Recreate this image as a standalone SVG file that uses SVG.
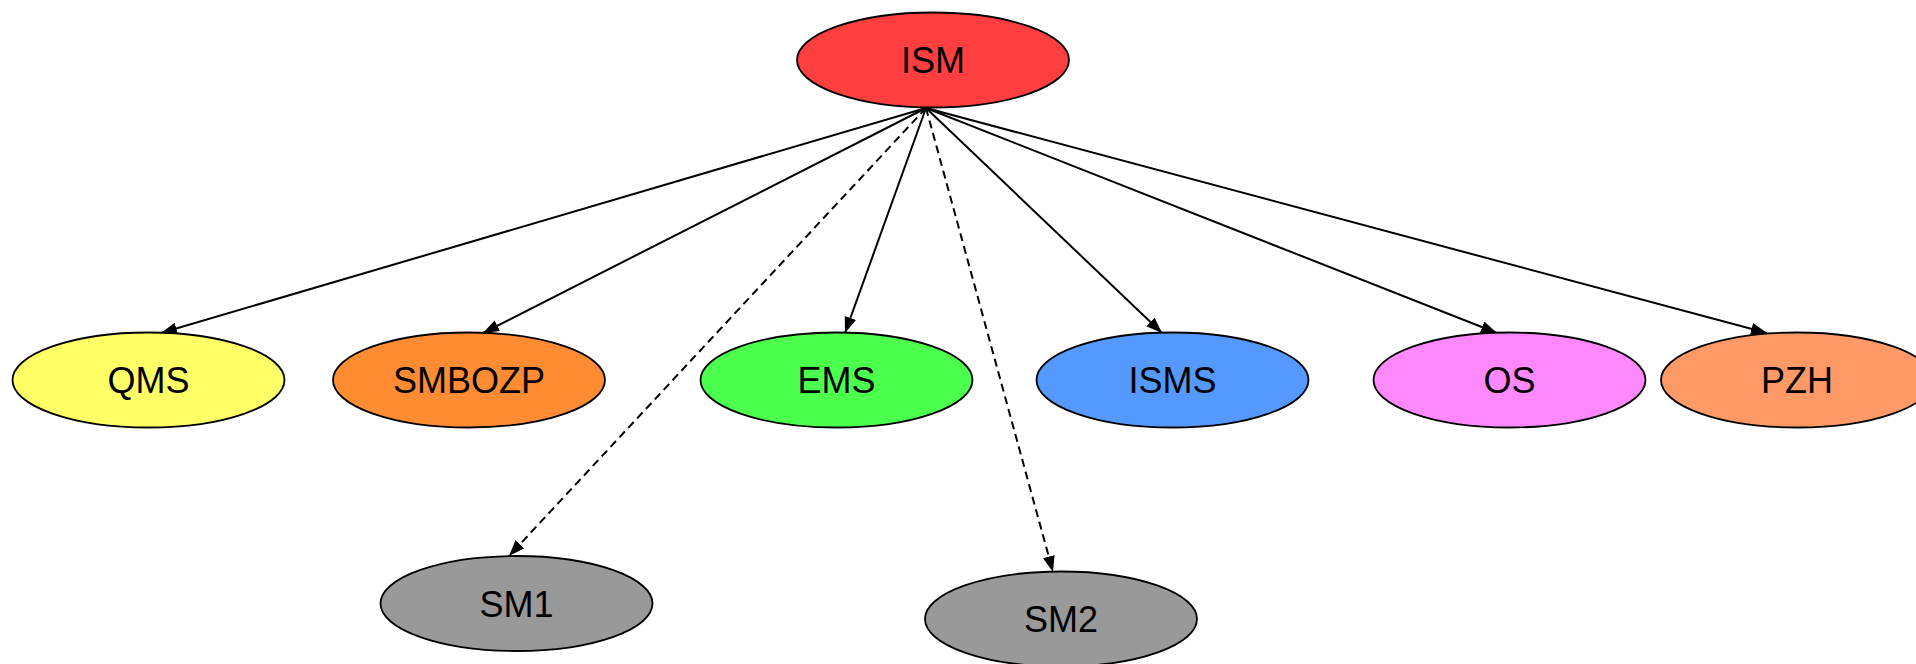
<svg xmlns="http://www.w3.org/2000/svg" width="1916" height="664" viewBox="0 0 1916 664">
<style>
.node ellipse{stroke:#000;stroke-width:1.8}
.node text{font-family:"Liberation Sans",Arial,sans-serif;font-size:36px;text-anchor:middle;fill:#000}
.edge{stroke:#000;stroke-width:2;fill:none}
.dash{stroke-dasharray:8,5}
</style>
<defs>
<marker id="arr" markerUnits="userSpaceOnUse" markerWidth="18" markerHeight="14" refX="16" refY="6" orient="auto">
<path d="M0,0 L16,6 L0,12 z" fill="#000"/>
</marker>
</defs>
<rect width="1916" height="664" fill="#fff"/>
<g id="connectors">
<line class="edge" x1="926" y1="108" x2="161" y2="333" marker-end="url(#arr)"/>
<line class="edge" x1="926" y1="108" x2="483" y2="333" marker-end="url(#arr)"/>
<line class="edge" x1="926" y1="108" x2="845" y2="333" marker-end="url(#arr)"/>
<line class="edge" x1="926" y1="108" x2="1162" y2="333" marker-end="url(#arr)"/>
<line class="edge" x1="926" y1="108" x2="1497" y2="333" marker-end="url(#arr)"/>
<line class="edge" x1="926" y1="108" x2="1767" y2="333" marker-end="url(#arr)"/>
<line class="edge dash" x1="926" y1="108" x2="509" y2="556" marker-end="url(#arr)"/>
<line class="edge dash" x1="926" y1="108" x2="1053" y2="572" marker-end="url(#arr)"/>
</g>
<g id="ISM" class="node"><ellipse cx="933" cy="60" rx="136" ry="47.5" fill="#ff3f3f"/><text x="933" y="73">ISM</text></g>
<g id="QMS" class="node"><ellipse cx="148.5" cy="380" rx="136" ry="47.5" fill="#ffff66"/><text x="148.5" y="393">QMS</text></g>
<g id="SMBOZP" class="node"><ellipse cx="469" cy="380" rx="136" ry="47.5" fill="#ff8c33"/><text x="469" y="393">SMBOZP</text></g>
<g id="EMS" class="node"><ellipse cx="836.5" cy="380" rx="136" ry="47.5" fill="#4cff4c"/><text x="836.5" y="393">EMS</text></g>
<g id="ISMS" class="node"><ellipse cx="1172.5" cy="380" rx="136" ry="47.5" fill="#5599ff"/><text x="1172.5" y="393">ISMS</text></g>
<g id="OS" class="node"><ellipse cx="1509.5" cy="380" rx="136" ry="47.5" fill="#ff88ff"/><text x="1509.5" y="393">OS</text></g>
<g id="PZH" class="node"><ellipse cx="1797" cy="380" rx="136" ry="47.5" fill="#ff9966"/><text x="1797" y="393">PZH</text></g>
<g id="SM1" class="node"><ellipse cx="516.5" cy="603.5" rx="136" ry="47.5" fill="#999999"/><text x="516.5" y="616.5">SM1</text></g>
<g id="SM2" class="node"><ellipse cx="1061" cy="619" rx="136" ry="47.5" fill="#999999"/><text x="1061" y="632">SM2</text></g>
</svg>
